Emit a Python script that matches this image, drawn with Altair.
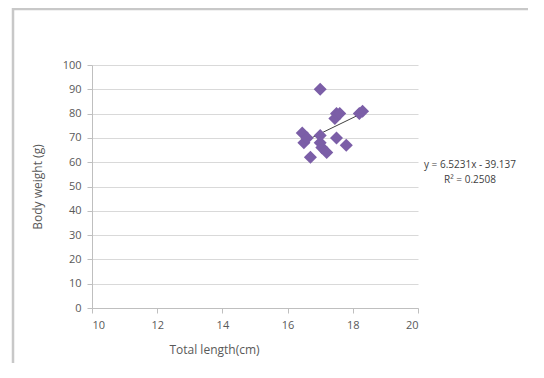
import altair as alt
import pandas as pd

# Data
total_length = [16.45, 16.5, 16.6, 16.7, 17.0, 17.0, 17.05, 17.2, 17.0, 17.45, 17.5, 17.6, 17.5, 17.8, 18.2, 18.3]
body_weight = [72, 68, 70, 62, 90, 71, 66, 64, 68, 78, 80, 80, 70, 67, 80, 81]
slope = 6.5231
intercept = -39.137
r_squared = 0.2508
x_ticks = [10, 12, 14, 16, 18, 20]
y_ticks = [0, 10, 20, 30, 40, 50, 60, 70, 80, 90, 100]

pts = pd.DataFrame({"x": total_length, "y": body_weight})
xmin, xmax = min(total_length), max(total_length)
fit = pd.DataFrame({"x": [xmin, xmax], "y": [slope * xmin + intercept, slope * xmax + intercept]})

FONT = "Open Sans"
GRAY = "#595959"

xs = alt.Scale(domain=[10, 20], nice=False, zero=False)
ys = alt.Scale(domain=[0, 100], nice=False)

x_axis = alt.Axis(values=x_ticks, title="Total length(cm)", grid=False,
                  domainColor="#bfbfbf", tickColor="#bfbfbf", tickSize=5,
                  labelColor=GRAY, labelFont=FONT, labelFontSize=11, labelPadding=6,
                  titleColor=GRAY, titleFont=FONT, titleFontSize=12, titleFontWeight="normal",
                  titlePadding=14, titleX=122, titleAnchor="middle")
y_axis = alt.Axis(values=y_ticks, title="Body weight (g)", grid=True, gridColor="#d9d9d9",
                  domainColor="#bfbfbf", tickColor="#bfbfbf", tickSize=5,
                  labelColor=GRAY, labelFont=FONT, labelFontSize=11, labelPadding=6,
                  labelOverlap=False,
                  titleColor=GRAY, titleFont=FONT, titleFontSize=12, titleFontWeight="normal",
                  titlePadding=18)

points = alt.Chart(pts).mark_point(shape="diamond", filled=True, size=170,
                                   color="#7B5EA7", opacity=1).encode(
    x=alt.X("x:Q", scale=xs, axis=x_axis),
    y=alt.Y("y:Q", scale=ys, axis=y_axis),
)

line = alt.Chart(fit).mark_line(color="#404040", strokeWidth=1).encode(
    x=alt.X("x:Q", scale=xs, axis=x_axis),
    y=alt.Y("y:Q", scale=ys, axis=y_axis),
)

eq = alt.Chart(pd.DataFrame({"t": [f"y = {slope}x - {abs(intercept)}", f"R² = {r_squared}"],
                             "yy": [100, 115]})).mark_text(
    font=FONT, fontSize=10, color="#404040", align="center").encode(
    x=alt.value(378), y=alt.Y("yy:Q", scale=None), text="t:N")

frame_v = alt.Chart(pd.DataFrame({"a": [0]})).mark_rule(color="#c8c8c8", strokeWidth=2.5).encode(
    x=alt.value(-79), y=alt.value(-57), y2=alt.value(330))
frame_h = alt.Chart(pd.DataFrame({"a": [0]})).mark_rule(color="#c8c8c8", strokeWidth=2.5).encode(
    x=alt.value(-80), x2=alt.value(460), y=alt.value(-56))

chart = alt.layer(frame_v, frame_h, line, points, eq).properties(
    width=326, height=243,
    autosize=alt.AutoSizeParams(type="none"),
    padding={"left": 84, "top": 57, "right": 110, "bottom": 55},
    background="white",
).configure_view(stroke=None)

chart.save("out.html", embed_options={"renderer": "svg", "actions": False})
